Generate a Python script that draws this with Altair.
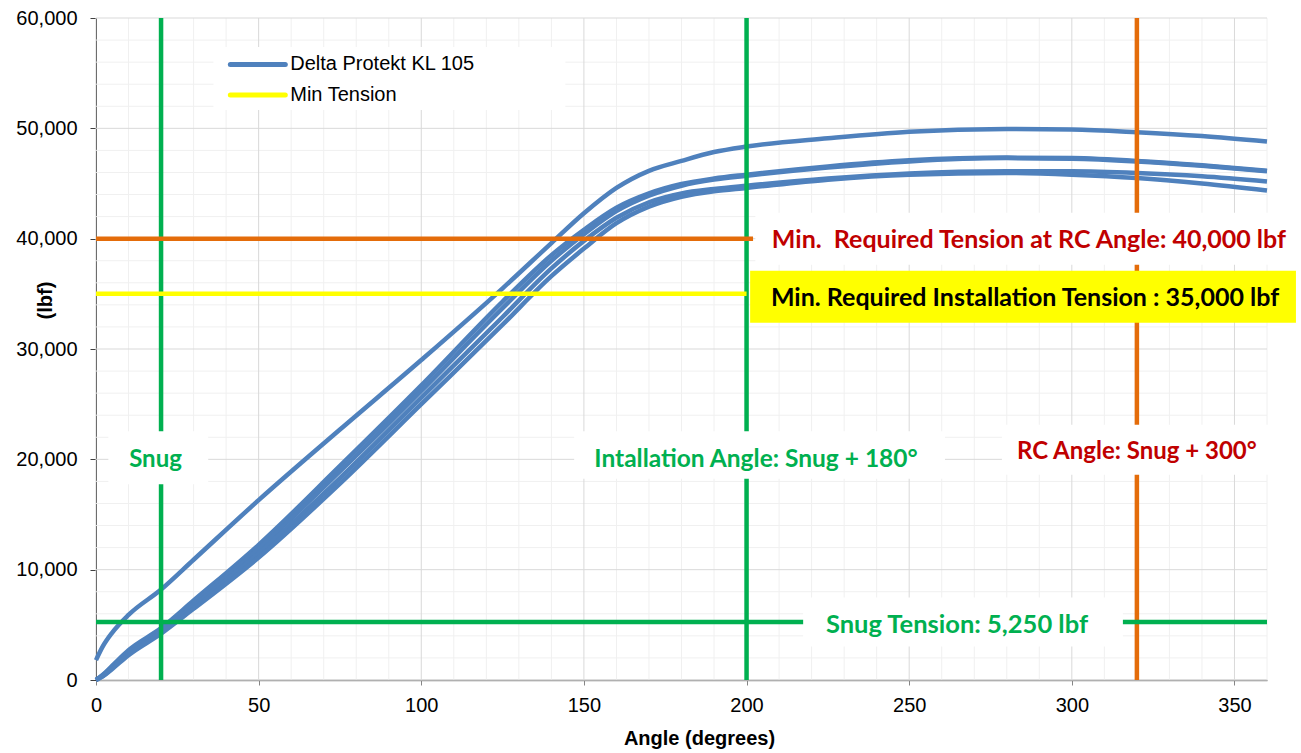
import altair as alt
import pandas as pd

# ---------------- data ----------------
angles = [0, 2, 5, 10, 20, 30, 50, 75, 100, 125, 140, 150, 160, 170, 180, 190,
          200, 225, 250, 280, 300, 320, 340, 360]

curve_1 = [1800, 3000, 4300, 5900, 8200, 10900, 16300, 22700, 29000, 35500, 39600,
           42300, 44600, 46150, 47050, 47850, 48350, 49100, 49700, 49950, 49900,
           49650, 49300, 48800]
curve_2 = [0, 450, 1300, 2700, 4700, 7200, 12250, 19400, 26700, 34300, 38500,
           40800, 42800, 44100, 44950, 45450, 45800, 46550, 47100, 47350, 47300,
           47050, 46650, 46150]
curve_3 = [0, 400, 1200, 2550, 4550, 6950, 11900, 18900, 26200, 33700, 38000,
           40400, 42500, 43900, 44800, 45350, 45700, 46450, 47000, 47300, 47250,
           47000, 46600, 46100]
curve_4 = [0, 350, 1100, 2400, 4350, 6700, 11500, 18300, 25600, 32900, 37300,
           39800, 41900, 43300, 44100, 44500, 44800, 45450, 45900, 46100, 46100,
           45950, 45650, 45180]
curve_5 = [0, 300, 1000, 2250, 4200, 6450, 11100, 17800, 25000, 32200, 36600,
           39100, 41400, 42900, 43800, 44300, 44600, 45350, 45800, 45950, 45800,
           45500, 45000, 44360]

curve_ids = ["Test 1", "Test 2", "Test 3", "Test 4", "Test 5"]
curves = [curve_1, curve_2, curve_3, curve_4, curve_5]

series_name = "Delta Protekt KL 105"
min_tension_name = "Min Tension"

x_ticks = [0, 50, 100, 150, 200, 250, 300, 350]
y_ticks = [0, 10000, 20000, 30000, 40000, 50000, 60000]
x_minor = [v for v in range(0, 361, 10) if v % 50 != 0]
y_minor = [v for v in range(0, 60001, 2000) if v % 10000 != 0]

snug_angle = 20
install_angle = 200
rc_angle = 320
snug_tension = 5250
rc_tension = 40000
install_tension = 35000

# reference-line extents (angle)
rc_tension_end = 202
install_tension_end = 200

# annotation boxes (angle / lbf)
box_x = [3.8, 147.0, 278.5, 217.4, 202.7, 201.1, 36.1]
box_x2 = [34.5, 261.0, 368.0, 315.7, 368.5, 368.9, 144.3]
box_y = [17750, 18250, 18610, 3030, 37630, 32380, 51670]
box_y2 = [22550, 22550, 23140, 7470, 42340, 37090, 57370]
box_fill = ["#FFFFFF", "#FFFFFF", "#FFFFFF", "#FFFFFF", "#FFFFFF", "#FFFF00", "#FFFFFF"]

# annotation texts
ann_text = ["Snug", "Intallation Angle: Snug + 180°", "RC Angle: Snug + 300°",
            "Snug Tension: 5,250 lbf",
            "Min.\u00a0 Required Tension at RC Angle: 40,000 lbf",
            "Min. Required Installation Tension : 35,000 lbf"]
ann_x = [18.3, 202.9, 320.0, 264.7, 286.8, 285.6]
ann_y = [19970, 19970, 20690, 5026, 39890, 34640]
ann_color = ["#00B050", "#00B050", "#C00000", "#00B050", "#C00000", "#000000"]
ann_size = [24, 24.5, 24, 25.5, 25, 25]

# legend sample positions (angle / lbf)
leg_x = [41.3, 41.3]
leg_x2 = [58.2, 58.2]
leg_y = [55790, 53030]
leg_text_x = [59.4, 59.4]
leg_labels = [series_name, min_tension_name]
leg_colors = ["#4F81BD", "#FFFF00"]

# ---------------- tables ----------------
rows = []
for cid, vals in zip(curve_ids, curves):
    for a, v in zip(angles, vals):
        rows.append({"curve": cid, "angle": a, "lbf": v})
curve_df = pd.DataFrame(rows)

boxes_df = pd.DataFrame({"x": box_x, "x2": box_x2, "y": box_y, "y2": box_y2, "fill": box_fill})
ann_df = pd.DataFrame({"x": ann_x, "y": ann_y, "text": ann_text, "color": ann_color, "size": ann_size})
leg_df = pd.DataFrame({"x": leg_x, "x2": leg_x2, "y": leg_y, "tx": leg_text_x,
                       "label": leg_labels, "color": leg_colors})

# ---------------- scales & axes ----------------
xs = alt.Scale(domain=[0, 360], nice=False, zero=False)
ys = alt.Scale(domain=[0, 60000], nice=False, zero=False)

common = dict(labelFont="Liberation Sans", labelFontSize=20, labelColor="#000000",
              titleFont="Liberation Sans", titleFontSize=20, titleFontWeight="bold",
              titleColor="#000000", grid=False, labelOverlap=False)

xaxis = alt.Axis(values=x_ticks, title="Angle (degrees)",
                 labelExpr="format(datum.value, 'd')", labelFlush=False,
                 tickSize=5, tickColor="#868686", domainColor="#868686", domainWidth=1.5,
                 labelPadding=10,
                 titleX=603, titleY=58, titleBaseline="middle", **common)
yaxis = alt.Axis(values=y_ticks, title="(lbf)",
                 labelExpr="format(datum.value, ',')", labelPadding=13,
                 tickSize=6, tickColor="#404040", domainColor="#000000", domainWidth=1,
                 titleX=-51, titleY=282, titleAlign="center", titleBaseline="middle",
                 **common)

X = lambda f: alt.X(f, scale=xs, axis=xaxis)
Y = lambda f: alt.Y(f, scale=ys, axis=yaxis)

# ---------------- layers ----------------
minor_x = alt.Chart(pd.DataFrame({"v": x_minor})).mark_rule(color="#F0F0F0", strokeWidth=1).encode(x=X("v:Q"))
minor_y = alt.Chart(pd.DataFrame({"v": y_minor})).mark_rule(color="#F0F0F0", strokeWidth=1).encode(y=Y("v:Q"))
major_x = alt.Chart(pd.DataFrame({"v": x_ticks})).mark_rule(color="#D9D9D9", strokeWidth=1).encode(x=X("v:Q"))
major_y = alt.Chart(pd.DataFrame({"v": y_ticks})).mark_rule(color="#D9D9D9", strokeWidth=1).encode(y=Y("v:Q"))

lines = alt.Chart(curve_df).mark_line(color="#4F81BD", strokeWidth=4.5, interpolate="monotone").encode(
    x=X("angle:Q"), y=Y("lbf:Q"), detail="curve:N")

vert_df = pd.DataFrame({"a": [snug_angle, install_angle, rc_angle],
                        "c": ["#00B050", "#00B050", "#E46C0A"]})
verts = alt.Chart(vert_df).mark_rule(strokeWidth=4.5).encode(
    x=X("a:Q"), color=alt.Color("c:N", scale=None))

horiz_df = pd.DataFrame({"x0": [0, 0, 0], "x1": [360, rc_tension_end, install_tension_end],
                         "t": [snug_tension, rc_tension, install_tension],
                         "c": ["#00B050", "#E46C0A", "#FFFF00"]})
horiz = alt.Chart(horiz_df).mark_rule(strokeWidth=4.5).encode(
    x=X("x0:Q"), x2="x1:Q", y=Y("t:Q"), color=alt.Color("c:N", scale=None))

boxes = alt.Chart(boxes_df).mark_rect().encode(
    x=X("x:Q"), x2="x2:Q", y=Y("y:Q"), y2="y2:Q", fill=alt.Fill("fill:N", scale=None))

texts = alt.Chart(ann_df).mark_text(font="Lato", fontWeight="bold", align="center",
                                    baseline="middle").encode(
    x=X("x:Q"), y=Y("y:Q"), text="text:N",
    color=alt.Color("color:N", scale=None), size=alt.Size("size:Q", scale=None))

leg_lines = alt.Chart(leg_df).mark_rule(strokeWidth=5, strokeCap="round").encode(
    x=X("x:Q"), x2="x2:Q", y=Y("y:Q"), color=alt.Color("color:N", scale=None))
leg_text = alt.Chart(leg_df).mark_text(font="Liberation Sans", fontSize=20, align="left",
                                       baseline="middle", dx=1, color="#000000").encode(
    x=X("tx:Q"), y=Y("y:Q"), text="label:N")

chart = alt.layer(minor_x, minor_y, major_x, major_y, lines, verts, horiz, boxes, texts,
                  leg_lines, leg_text).properties(
    width=1171, height=662,
    background="#FFFFFF",
    autosize=alt.AutoSizeParams(type="none"),
    padding={"left": 96, "top": 18, "right": 34, "bottom": 73},
).configure_view(stroke=None)

chart.save("out.html", embed_options={"renderer": "svg", "actions": False})
